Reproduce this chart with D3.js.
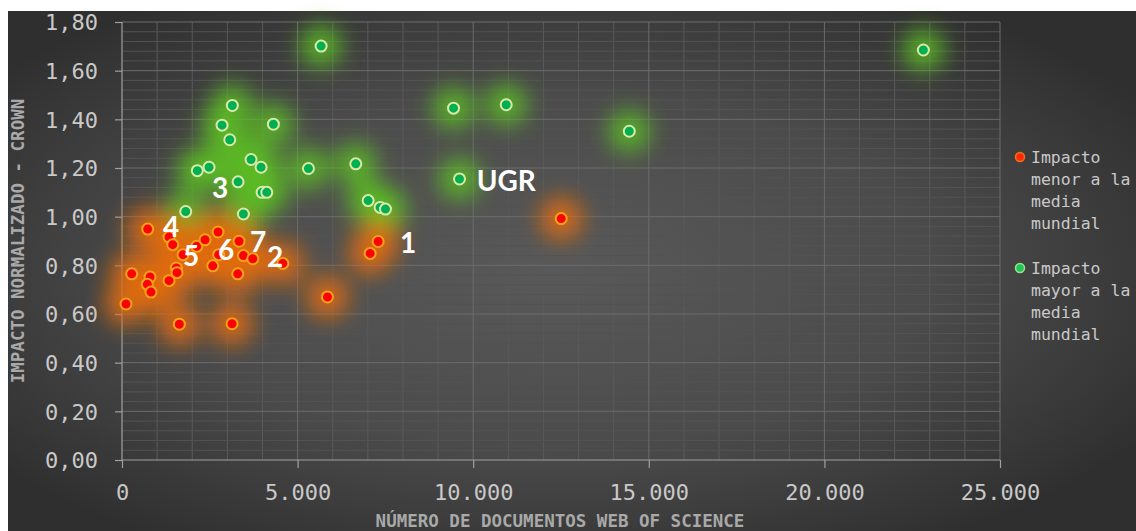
<!DOCTYPE html>
<html><head><meta charset="utf-8">
<script src="https://cdn.jsdelivr.net/npm/d3@7"></script>
<style>html,body{margin:0;padding:0;background:#fff;}svg{display:block;}</style>
</head><body>
<svg id="chart" width="1136" height="531"></svg>
<script>
// ---- data ----
const xTicks = [0, 5000, 10000, 15000, 20000, 25000];
const yTicks = [0, 0.2, 0.4, 0.6, 0.8, 1.0, 1.2, 1.4, 1.6, 1.8];
const seriesNames = ["Impacto menor a la media mundial", "Impacto mayor a la media mundial"];
const legendLines = [["Impacto", "menor a la", "media", "mundial"], ["Impacto", "mayor a la", "media", "mundial"]];
const xTitle = "NÚMERO DE DOCUMENTOS WEB OF SCIENCE";
const yTitle = "IMPACTO NORMALIZADO - CROWN";

// Impacto menor a la media mundial: [documents, impact]
const lowerDocs = [732, 1339, 1444, 1738, 2127, 2365, 2735, 2754, 2584, 3333, 3457, 3723, 3296, 4578, 276, 798, 721, 826, 1339, 1547, 1567, 114, 1633, 3134, 7293, 7066, 5850, 12507];
const lowerImpact = [0.949, 0.916, 0.885, 0.844, 0.878, 0.905, 0.937, 0.844, 0.798, 0.899, 0.840, 0.827, 0.765, 0.808, 0.765, 0.752, 0.722, 0.690, 0.737, 0.789, 0.770, 0.641, 0.558, 0.560, 0.898, 0.849, 0.670, 0.992];
// Impacto mayor a la media mundial
const higherDocs = [3142, 2849, 4311, 3068, 3675, 3960, 2145, 2479, 3305, 3989, 4122, 1814, 3457, 5670, 9440, 10940, 5309, 6657, 9610, 7009, 7350, 7502, 14444, 22818];
const higherImpact = [1.457, 1.376, 1.380, 1.316, 1.235, 1.203, 1.189, 1.203, 1.143, 1.100, 1.100, 1.021, 1.011, 1.701, 1.446, 1.460, 1.198, 1.217, 1.155, 1.066, 1.038, 1.031, 1.351, 1.685];

// annotation labels (data coordinates)
const annText = ["1", "2", "3", "4", "5", "6", "7", "UGR"];
const annDocs = [8148, 4359, 2792, 1396, 1966, 2963, 3875, 10940];
const annImpact = [0.893, 0.835, 1.119, 0.959, 0.840, 0.864, 0.897, 1.148];

// ---- chart ----
const W = 1136, H = 531;
const M = {left: 122, top: 22, right: 1000, bottom: 460};
const svg = d3.select("#chart");
const defs = svg.append("defs");

const bg = defs.append("radialGradient").attr("id", "bg")
  .attr("cx", "48%").attr("cy", "50%").attr("r", "62%");
bg.append("stop").attr("offset", "0%").attr("stop-color", "#595959");
bg.append("stop").attr("offset", "55%").attr("stop-color", "#4b4b4b");
bg.append("stop").attr("offset", "100%").attr("stop-color", "#2f2f2f");

const blur = defs.append("filter").attr("id", "glow")
  .attr("x", "-50%").attr("y", "-50%").attr("width", "200%").attr("height", "200%");
blur.append("feGaussianBlur").attr("stdDeviation", 11);

svg.append("rect").attr("width", W).attr("height", H).attr("fill", "#ffffff");
svg.append("rect").attr("x", 8).attr("y", 11).attr("width", W - 8).attr("height", H - 11).attr("fill", "url(#bg)");

const x = d3.scaleLinear().domain([0, 25000]).range([M.left, M.right]);
const y = d3.scaleLinear().domain([0, 1.8]).range([M.bottom, M.top]);

const loc = d3.formatLocale({decimal: ",", thousands: ".", grouping: [3], currency: ["", "€"]});
const fx = loc.format(",.0f");
const fy = loc.format(".2f");

// minor grid
const g = svg.append("g");
g.selectAll(".mx").data(d3.range(1000, 25000, 1000).filter(v => v % 5000 !== 0)).join("line")
  .attr("x1", d => x(d)).attr("x2", d => x(d)).attr("y1", M.top).attr("y2", M.bottom)
  .attr("stroke", "#5a5a5a").attr("stroke-width", 1);
g.selectAll(".my").data(d3.range(0.04, 1.8, 0.04).filter(v => Math.abs(v / 0.2 - Math.round(v / 0.2)) > 0.01)).join("line")
  .attr("x1", M.left).attr("x2", M.right).attr("y1", d => y(d)).attr("y2", d => y(d))
  .attr("stroke", "#535353").attr("stroke-width", 1);
// major grid
g.selectAll(".Mx").data(xTicks.slice(1)).join("line")
  .attr("x1", d => x(d)).attr("x2", d => x(d)).attr("y1", M.top).attr("y2", M.bottom)
  .attr("stroke", "#6c6c6c").attr("stroke-width", 1);
g.selectAll(".My").data(yTicks.slice(1)).join("line")
  .attr("x1", M.left).attr("x2", M.right).attr("y1", d => y(d)).attr("y2", d => y(d))
  .attr("stroke", "#6c6c6c").attr("stroke-width", 1);

// axes
const mono = "'DejaVu Sans Mono', 'Liberation Mono', monospace";
const xAxis = svg.append("g").attr("transform", `translate(0,${M.bottom})`)
  .call(d3.axisBottom(x).tickValues(xTicks).tickFormat(fx).tickSize(8).tickPadding(16));
const yAxis = svg.append("g").attr("transform", `translate(${M.left},0)`)
  .call(d3.axisLeft(y).tickValues(yTicks).tickFormat(fy).tickSize(7).tickPadding(17));
[xAxis, yAxis].forEach(a => {
  a.select(".domain").attr("stroke", "#a0a0a0").attr("stroke-width", 1.2);
  a.selectAll(".tick line").attr("stroke", "#a0a0a0").attr("stroke-width", 1.2);
  a.selectAll(".tick text").attr("fill", "#c9c9c9").style("font-family", mono).style("font-size", "22px");
});
yAxis.select(".domain").attr("d", `M0,${M.bottom}V${M.top}`);
xAxis.select(".domain").attr("d", `M${M.left},0H${M.right}`);
xAxis.selectAll(".tick text").attr("dy", "0.71em");
yAxis.selectAll(".tick text").attr("dy", "0.35em");

// axis titles
svg.append("text").attr("x", 560).attr("y", 527).attr("text-anchor", "middle")
  .attr("fill", "#a9a9a9").style("font-family", mono).style("font-size", "17.5px").style("font-weight", "bold")
  .text(xTitle);
svg.append("text").attr("transform", "translate(24,241) rotate(-90)").attr("text-anchor", "middle")
  .attr("fill", "#a9a9a9").style("font-family", mono).style("font-size", "17.5px").style("font-weight", "bold")
  .text(yTitle);

// glows and points
const lower = lowerDocs.map((d, i) => ({x: d, y: lowerImpact[i]}));
const higher = higherDocs.map((d, i) => ({x: d, y: higherImpact[i]}));
const glow = svg.append("g").attr("filter", "url(#glow)");
glow.selectAll(".gg").data(higher).join("circle")
  .attr("cx", d => x(d.x)).attr("cy", d => y(d.y)).attr("r", 21)
  .attr("fill", "#5cbc25").attr("fill-opacity", 0.85);
glow.selectAll(".go").data(lower).join("circle")
  .attr("cx", d => x(d.x)).attr("cy", d => y(d.y)).attr("r", 21)
  .attr("fill", "#e06c0a").attr("fill-opacity", 0.9);

svg.append("g").selectAll("circle").data(higher).join("circle")
  .attr("cx", d => x(d.x)).attr("cy", d => y(d.y)).attr("r", 5.5)
  .attr("fill", "#00b050").attr("stroke", "#dbe9a8").attr("stroke-width", 2);
svg.append("g").selectAll("circle").data(lower).join("circle")
  .attr("cx", d => x(d.x)).attr("cy", d => y(d.y)).attr("r", 5.5)
  .attr("fill", "#ff0000").attr("stroke", "#f7a21b").attr("stroke-width", 2);

// annotations
svg.append("g").selectAll("text").data(annText).join("text")
  .attr("x", (d, i) => x(annDocs[i])).attr("y", (d, i) => y(annImpact[i]))
  .attr("text-anchor", "middle").attr("dy", "0.36em")
  .attr("fill", "#ffffff").style("font-family", "Lato, 'Open Sans', sans-serif")
  .style("font-weight", "bold").style("font-size", "28px")
  .text(d => d);

// legend
const legColors = [["#ff2a00", "#f07020"], ["#22c45a", "#9be08a"]];
const legY = [157, 268];
seriesNames.forEach((name, k) => {
  const lg = svg.append("g").attr("transform", `translate(1020,${legY[k]})`);
  lg.append("circle").attr("r", 4.5).attr("fill", legColors[k][0]).attr("stroke", legColors[k][1]).attr("stroke-width", 1.5);
  lg.selectAll("text").data(legendLines[k]).join("text")
    .attr("x", 11).attr("y", (d, i) => i * 22).attr("dy", "0.35em")
    .attr("fill", "#c9c9c9").style("font-family", mono).style("font-size", "16.5px")
    .text(d => d);
});
</script>
</body></html>
